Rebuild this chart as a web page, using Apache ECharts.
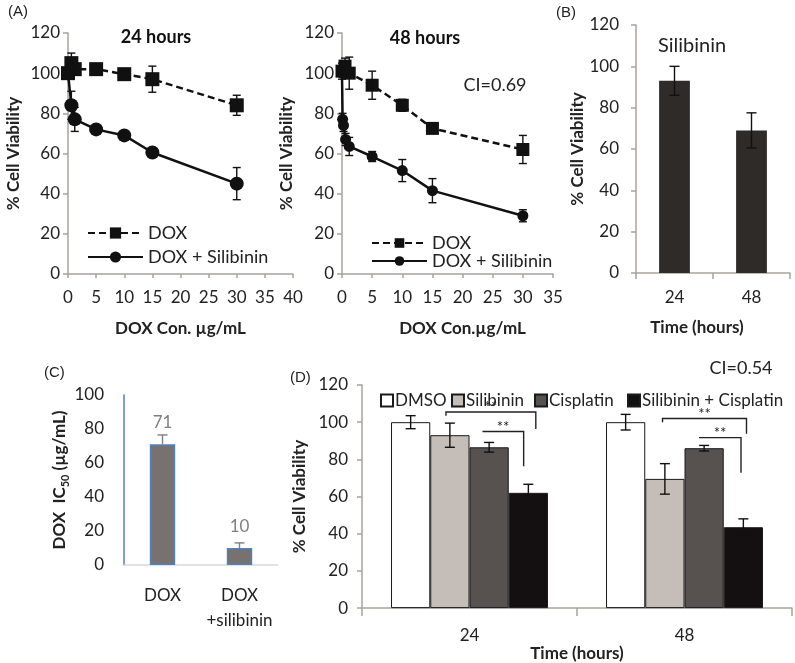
<!DOCTYPE html>
<html><head><meta charset="utf-8">
<script src="https://cdn.jsdelivr.net/npm/echarts@6/dist/echarts.min.js"></script>
<style>html,body{margin:0;padding:0;background:#fff}#c{width:795px;height:663px}</style>
</head><body><div id="c"></div>
<script>
// ---------- data ----------
const doseA24 = [0, 0.6, 1.2, 5, 10, 15, 30];
const doxA24 = [100, 105, 102, 102, 99.5, 97, 84];
const doxA24Err = [2, 5, 3, 1.5, 2, 6.5, 5];
const comboA24 = [100, 84, 77, 72, 69, 60.5, 45];
const comboA24Err = [0, 7, 6, 1, 1, 1, 8];

const doseDoxA48 = [0, 0.5, 1.2, 5, 10, 15, 30];
const doxA48 = [101, 103.5, 100, 94, 84, 72.5, 62];
const doxA48Err = [4, 4, 8, 7, 3, 1.5, 7];
const doseComboA48 = [0, 0.1, 0.25, 0.6, 1.2, 5, 10, 15, 30];
const comboA48 = [100, 77, 74, 67, 63.5, 58.5, 51.5, 41.5, 29];
const comboA48Err = [0, 3, 3, 3, 4.5, 2.5, 5.5, 6, 3];

const timeCats = ['24', '48'];
const silB = [93, 69];
const silBErr = [7, 8.5];

const icCats = ['DOX', 'DOX\n+silibinin'];
const ic50 = [71, 10];
const ic50Err = [5.5, 3];

const dNames = ['DMSO', 'Silibinin', 'Cisplatin', 'Silibinin + Cisplatin'];
const dDmso = [100, 100];
const dDmsoErr = [3.5, 4.2];
const dSil = [93, 69.5];
const dSilErr = [6.5, 8.2];
const dCis = [86.5, 86];
const dCisErr = [2.6, 1.5];
const dCombo = [62, 43.5];
const dComboErr = [4.6, 4.5];
// brackets: [category, fromBar, toBar, top, leftEnd, rightEnd]
const brackets = [
  [0, 1.40, 3.69, 105.5, 103.4, 96.4],
  [0, 2.33, 3.38, 95, 95, 76.3],
  [1, 1.44, 3.58, 102, 100, 93.8],
  [1, 2.37, 3.44, 91.7, 91.7, 72.8]
];
const sigLabel = '**';

// ---------- helpers ----------
const FONT = 'Lato';
const AX = '#aaa39c';
const lineStyleErr = {stroke: '#111', lineWidth: 1.4};

function errSeries(xi, xs, vals, errs, cap, color, onlyUp) {
  const data = [];
  xs.forEach((x, i) => { if (errs[i] > 0) data.push([x, onlyUp ? vals[i] : vals[i] - errs[i], vals[i] + errs[i]]); });
  return {
    type: 'custom', xAxisIndex: xi, yAxisIndex: xi, z: 5, silent: true,
    data: data, encode: {x: 0, y: [1, 2]},
    renderItem: function (params, api) {
      const p1 = api.coord([api.value(0), api.value(1)]);
      const p2 = api.coord([api.value(0), api.value(2)]);
      const st = {stroke: color || '#111', lineWidth: 1.4};
      const ch = [
        {type: 'line', shape: {x1: p1[0], y1: p1[1], x2: p2[0], y2: p2[1]}, style: st},
        {type: 'line', shape: {x1: p2[0] - cap, y1: p2[1], x2: p2[0] + cap, y2: p2[1]}, style: st}
      ];
      if (!onlyUp) ch.push({type: 'line', shape: {x1: p1[0] - cap, y1: p1[1], x2: p1[0] + cap, y2: p1[1]}, style: st});
      return {type: 'group', children: ch};
    }
  };
}

const GAP_D = 0.27;
function barCenterD(api, cat, pos) {
  const c = api.coord([cat, 0])[0];
  const bw = api.size([1, 0])[0];
  const gw = bw * (1 - GAP_D);
  const w = gw / 4;
  return c - gw / 2 + pos * w;
}

function dErr(vals, errs, barIdx) {
  return {
    type: 'custom', xAxisIndex: 4, yAxisIndex: 4, z: 5, silent: true,
    data: vals.map((v, i) => [i, v - errs[i], v + errs[i]]),
    encode: {x: 0, y: [1, 2]},
    renderItem: function (params, api) {
      const x = barCenterD(api, api.value(0), barIdx + 0.5);
      const y1 = api.coord([api.value(0), api.value(1)])[1];
      const y2 = api.coord([api.value(0), api.value(2)])[1];
      const cap = 5;
      return {type: 'group', children: [
        {type: 'line', shape: {x1: x, y1: y1, x2: x, y2: y2}, style: lineStyleErr},
        {type: 'line', shape: {x1: x - cap, y1: y1, x2: x + cap, y2: y1}, style: lineStyleErr},
        {type: 'line', shape: {x1: x - cap, y1: y2, x2: x + cap, y2: y2}, style: lineStyleErr}
      ]};
    }
  };
}

function valX(gi, max) {
  return {
    type: 'value', gridIndex: gi, min: 0, max: max, interval: 5,
    axisLine: {lineStyle: {color: AX, width: 1.5}},
    axisTick: {show: true, length: 4, lineStyle: {color: AX, width: 1.5}},
    axisLabel: {fontFamily: FONT, fontSize: 17, color: '#222', margin: 15},
    splitLine: {show: false},
    nameLocation: 'middle', nameGap: 46,
    nameTextStyle: {fontFamily: FONT, fontSize: 17, fontWeight: 'bold', color: '#222'}
  };
}
function valY(gi, max, interval, labelMargin, nameGap, axColor, ticks) {
  return {
    type: 'value', gridIndex: gi, min: 0, max: max, interval: interval,
    axisLine: {show: true, lineStyle: {color: axColor || AX, width: 1.5}},
    axisTick: {show: ticks !== false, length: 5, lineStyle: {color: AX, width: 1.5}},
    axisLabel: {fontFamily: FONT, fontSize: 17, color: '#222', margin: labelMargin},
    splitLine: {show: false},
    name: '% Cell Viability', nameLocation: 'middle', nameRotate: 90, nameGap: nameGap,
    nameTextStyle: {fontFamily: FONT, fontSize: 17, fontWeight: 'bold', color: '#222'}
  };
}

function dLegend(i, left) {
  return {data: [dNames[i]], left: left, top: 387, itemWidth: 12, itemHeight: 12, icon: 'rect',
    textStyle: {fontFamily: FONT, fontSize: 17, color: '#222', padding: [0, 0, 0, -3]}, selectedMode: false};
}

const option = {
  animation: false,
  backgroundColor: '#fff',
  textStyle: {fontFamily: FONT},
  grid: [
    {left: 68, top: 33, width: 225, height: 241},
    {left: 342, top: 33, width: 211, height: 241},
    {left: 636, top: 25, width: 154, height: 248},
    {left: 124, top: 395, width: 154, height: 170},
    {left: 362, top: 385, width: 430, height: 229}
  ],
  xAxis: [
    Object.assign(valX(0, 40), {name: 'DOX Con. µg/mL'}),
    Object.assign(valX(1, 35), {name: 'DOX Con.µg/mL', nameTextStyle: {fontFamily: FONT, fontSize: 17, fontWeight: 'bold', color: '#222', padding: [0, 0, 0, 30]}}),
    {type: 'category', gridIndex: 2, data: timeCats,
      axisLine: {lineStyle: {color: AX, width: 1.5}},
      axisTick: {show: true, length: 6, alignWithLabel: false, lineStyle: {color: AX, width: 1.5}},
      axisLabel: {fontFamily: FONT, fontSize: 17, color: '#222', margin: 16},
      name: 'Time (hours)', nameLocation: 'middle', nameGap: 46,
      nameTextStyle: {fontFamily: FONT, fontSize: 17, fontWeight: 'bold', color: '#222', padding: [0, 32, 0, 0]}},
    {type: 'category', gridIndex: 3, data: icCats,
      axisLine: {lineStyle: {color: '#d9d9d9', width: 1.5}},
      axisTick: {show: false},
      axisLabel: {interval: 0, fontFamily: FONT, fontSize: 17, color: '#222', margin: 18, lineHeight: 25}},
    {type: 'category', gridIndex: 4, data: timeCats,
      axisLine: {lineStyle: {color: AX, width: 1.5}},
      axisTick: {show: true, length: 8, alignWithLabel: false, lineStyle: {color: AX, width: 1.5}},
      axisLabel: {fontFamily: FONT, fontSize: 17, color: '#222', margin: 19},
      name: 'Time (hours)', nameLocation: 'middle', nameGap: 26,
      nameTextStyle: {fontFamily: FONT, fontSize: 17, fontWeight: 'bold', color: '#222'}}
  ],
  yAxis: [
    valY(0, 120, 20, 8, 46),
    valY(1, 120, 20, 8, 47),
    valY(2, 120, 20, 17, 44),
    Object.assign(valY(3, 100, 20, 20, 51, '#4f81bd', false), {
      name: '{b|DOX  IC}{s|50}{b| (µg/mL)}',
      nameTextStyle: {rich: {
        b: {fontFamily: FONT, fontSize: 17, fontWeight: 'bold', color: '#222', lineHeight: 22},
        s: {fontFamily: FONT, fontSize: 11, fontWeight: 'bold', color: '#222', lineHeight: 22, verticalAlign: 'bottom', padding: [9, 0, 0, 0]}
      }}
    }),
    valY(4, 120, 20, 14, 41)
  ],
  legend: [
    {data: ['DOX', 'DOX + Silibinin'], orient: 'vertical', left: 82, top: 219, itemWidth: 55, itemHeight: 14, itemGap: 6,
      textStyle: {fontFamily: FONT, fontSize: 18, color: '#222'}, selectedMode: false},
    {data: ['DOX ', 'DOX + Silibinin '], orient: 'vertical', left: 366, top: 229, itemWidth: 55, itemHeight: 12, itemGap: 0,
      textStyle: {fontFamily: FONT, fontSize: 18, color: '#222'}, selectedMode: false},
    dLegend(0, 375), dLegend(1, 446), dLegend(2, 529), dLegend(3, 622)
  ],
  graphic: [
    {type: 'text', left: 8, top: 4, style: {text: '(A)', font: '15px "Liberation Sans"', fill: '#222'}},
    {type: 'text', left: 556, top: 5, style: {text: '(B)', font: '15px "Liberation Sans"', fill: '#222'}},
    {type: 'text', left: 44, top: 365, style: {text: '(C)', font: '15px "Liberation Sans"', fill: '#222'}},
    {type: 'text', left: 290, top: 370, style: {text: '(D)', font: '15px "Liberation Sans"', fill: '#222'}},
    {type: 'text', x: 156, y: 37, style: {text: '24 hours', font: 'bold 18px Lato', fill: '#111', textAlign: 'center', textVerticalAlign: 'middle'}},
    {type: 'text', x: 425, y: 38, style: {text: '48 hours', font: 'bold 18px Lato', fill: '#111', textAlign: 'center', textVerticalAlign: 'middle'}},
    {type: 'text', x: 495, y: 85, style: {text: 'CI=0.69', font: '18px Lato', fill: '#222', textAlign: 'center', textVerticalAlign: 'middle'}},
    {type: 'text', x: 692, y: 46, style: {text: 'Silibinin', font: '20px Lato', fill: '#222', textAlign: 'center', textVerticalAlign: 'middle'}},
    {type: 'text', x: 741, y: 368, style: {text: 'CI=0.54', font: '18px Lato', fill: '#222', textAlign: 'center', textVerticalAlign: 'middle'}}
  ],
  series: [
    // A1
    {name: 'DOX', type: 'line', xAxisIndex: 0, yAxisIndex: 0, data: doseA24.map((d, i) => [d, doxA24[i]]),
      symbol: 'rect', symbolSize: 14, itemStyle: {color: '#111'}, lineStyle: {color: '#111', width: 2.5, type: [7, 4]}, z: 3},
    {name: 'DOX + Silibinin', type: 'line', xAxisIndex: 0, yAxisIndex: 0, data: doseA24.map((d, i) => [d, comboA24[i]]),
      symbol: 'circle', symbolSize: 14, itemStyle: {color: '#111'}, lineStyle: {color: '#111', width: 2.5}, z: 3},
    errSeries(0, doseA24, doxA24, doxA24Err, 4),
    errSeries(0, doseA24, comboA24, comboA24Err, 4),
    // A2
    {name: 'DOX ', type: 'line', xAxisIndex: 1, yAxisIndex: 1, data: doseDoxA48.map((d, i) => [d, doxA48[i]]),
      symbol: 'rect', symbolSize: 13, itemStyle: {color: '#111'}, lineStyle: {color: '#111', width: 2.5, type: [7, 4]}, z: 3},
    {name: 'DOX + Silibinin ', type: 'line', xAxisIndex: 1, yAxisIndex: 1, data: doseComboA48.map((d, i) => [d, comboA48[i]]),
      symbol: 'circle', symbolSize: 11, itemStyle: {color: '#111'}, lineStyle: {color: '#111', width: 2.5}, z: 3},
    errSeries(1, doseDoxA48, doxA48, doxA48Err, 4),
    errSeries(1, doseComboA48, comboA48, comboA48Err, 4),
    // B
    {name: 'Silibinin alone', type: 'bar', xAxisIndex: 2, yAxisIndex: 2, data: silB, barCategoryGap: '60%',
      itemStyle: {color: '#2f2b28'}},
    errSeries(2, [0, 1], silB, silBErr, 5),
    // C
    {name: 'IC50', type: 'bar', xAxisIndex: 3, yAxisIndex: 3, data: ic50, barCategoryGap: '67%',
      itemStyle: {color: '#77716f', borderColor: '#4f81bd', borderWidth: 1.5},
      label: {show: true, position: 'top', distance: 13, fontFamily: FONT, fontSize: 17, color: '#7f7f7f'}},
    errSeries(3, [0, 1], ic50, ic50Err, 5, '#7f7f7f', true),
    // D
    {name: dNames[0], type: 'bar', xAxisIndex: 4, yAxisIndex: 4, data: dDmso, barGap: '0%', barCategoryGap: '27%',
      itemStyle: {color: '#ffffff', borderColor: '#1a1a1a', borderWidth: 1}},
    {name: dNames[1], type: 'bar', xAxisIndex: 4, yAxisIndex: 4, data: dSil, barGap: '0%', barCategoryGap: '27%',
      itemStyle: {color: '#c5bdb8', borderColor: '#1a1a1a', borderWidth: 1}},
    {name: dNames[2], type: 'bar', xAxisIndex: 4, yAxisIndex: 4, data: dCis, barGap: '0%', barCategoryGap: '27%',
      itemStyle: {color: '#575150', borderColor: '#1a1a1a', borderWidth: 1}},
    {name: dNames[3], type: 'bar', xAxisIndex: 4, yAxisIndex: 4, data: dCombo, barGap: '0%', barCategoryGap: '27%',
      itemStyle: {color: '#141011', borderColor: '#1a1a1a', borderWidth: 1}},
    dErr(dDmso, dDmsoErr, 0),
    dErr(dSil, dSilErr, 1),
    dErr(dCis, dCisErr, 2),
    dErr(dCombo, dComboErr, 3),
    {type: 'custom', xAxisIndex: 4, yAxisIndex: 4, z: 6, silent: true, data: brackets,
      encode: {x: 0, y: 3},
      renderItem: function (params, api) {
        const cat = api.value(0);
        const xl = barCenterD(api, cat, api.value(1));
        const xr = barCenterD(api, cat, api.value(2));
        const yt = api.coord([cat, api.value(3)])[1];
        const yl = api.coord([cat, api.value(4)])[1];
        const yr = api.coord([cat, api.value(5)])[1];
        const st = {stroke: '#222', lineWidth: 1.4, fill: null};
        return {type: 'group', children: [
          {type: 'polyline', shape: {points: [[xl, yl], [xl, yt], [xr, yt], [xr, yr]]}, style: st},
          {type: 'text', x: (xl + xr) / 2, y: yt + 3, style: {text: sigLabel, font: '15px Lato', fill: '#222', textAlign: 'center', textVerticalAlign: 'bottom'}}
        ]};
      }}
  ]
};

const chart = echarts.init(document.getElementById('c'), null, {renderer: 'canvas'});
chart.setOption(option);
</script>
</body></html>
